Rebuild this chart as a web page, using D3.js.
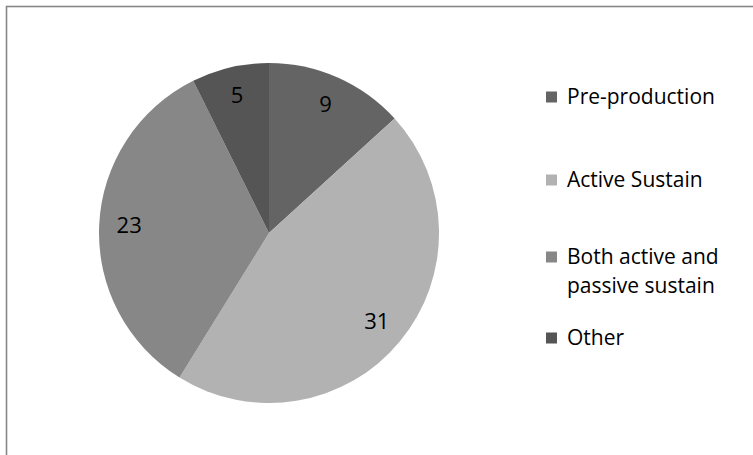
<!DOCTYPE html>
<html>
<head>
<meta charset="utf-8">
<script src="https://cdn.jsdelivr.net/npm/d3@7/dist/d3.min.js"></script>
<style>
  html, body { margin: 0; padding: 0; background: #ffffff; }
  svg { display: block; }
  text { font-family: "Open Sans", "Noto Sans", sans-serif; fill: #000; }
</style>
</head>
<body>
<svg id="chart" width="753" height="455"></svg>
<script>
// Project stage counts
const categories = ["Pre-production", "Active Sustain", "Both active and passive sustain", "Other"];
const values = [9, 31, 23, 5];
const colors = ["#646464", "#b2b2b2", "#878787", "#555555"];
const legendLines = [["Pre-production"], ["Active Sustain"], ["Both active and", "passive sustain"], ["Other"]];

const svg = d3.select("#chart");
const W = 753, H = 455;

// Chart-area frame
svg.append("rect")
  .attr("x", 6.5).attr("y", 6.5)
  .attr("width", W + 20).attr("height", H + 20)
  .attr("fill", "#fff")
  .attr("stroke", "#878787")
  .attr("stroke-width", 1.6);

const cx = 269, cy = 233, R = 170, labelR = 140;

const data = categories.map((c, i) => ({ name: c, value: values[i], color: colors[i], lines: legendLines[i] }));

const pie = d3.pie().value(d => d.value).sort(null);
const arcs = pie(data);
const arc = d3.arc().innerRadius(0).outerRadius(R);
const labelArc = d3.arc().innerRadius(labelR).outerRadius(labelR);

const g = svg.append("g").attr("transform", `translate(${cx},${cy})`);

g.selectAll("path.slice")
  .data(arcs)
  .join("path")
  .attr("class", "slice")
  .attr("d", arc)
  .attr("fill", d => d.data.color);

g.selectAll("text.val")
  .data(arcs)
  .join("text")
  .attr("class", "val")
  .attr("transform", d => `translate(${labelArc.centroid(d)})`)
  .attr("text-anchor", "middle")
  .attr("dy", "0.3em")
  .style("font-size", "22px")
  .text(d => d.data.value);

// Legend
const rowY = [97, 180, 257, 338];
const lineGap = 29;
const lg = svg.append("g");
data.forEach((d, i) => {
  const y = rowY[i];
  lg.append("rect")
    .attr("x", 546).attr("y", y - 5.5)
    .attr("width", 11).attr("height", 11)
    .attr("fill", d.color);
  d.lines.forEach((line, j) => {
    lg.append("text")
      .attr("x", 567).attr("y", y + j * lineGap)
      .attr("dy", "0.35em")
      .style("font-size", "21px")
      .text(line);
  });
});
</script>
</body>
</html>
